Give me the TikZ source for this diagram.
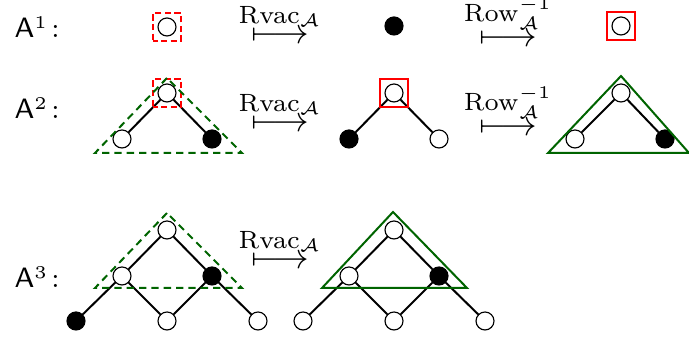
\documentclass[tikz,border=0pt]{standalone}
\usepackage{amsmath}
\definecolor{dkgreen}{RGB}{0,100,0}
\begin{document}
\begin{tikzpicture}[x=0.3pt,y=-0.3pt,
  wn/.style={circle,draw=black,line width=0.35pt,fill=white,minimum size=5.4pt,inner sep=0pt},
  bn/.style={wn,fill=black},
  edge/.style={line width=0.6pt},
  tri/.style={draw=dkgreen,line width=0.6pt},
  dtri/.style={tri,dash pattern=on 2.2pt off 1.5pt},
  rsq/.style={draw=red,line width=0.5pt,minimum size=8.4pt,inner sep=0pt},
  drsq/.style={rsq,dash pattern=on 1.9pt off 1pt,dash phase=0.5pt},
  lab/.style={anchor=base west,inner sep=0pt,font=\fontsize{8.4}{10}\selectfont},
  arr/.style={anchor=base,inner sep=0pt,scale=1.07}]
\useasboundingbox (0,0) rectangle (689,337);

% row labels
\node[lab] (l1) at (14,38) {\textsf{A}\raisebox{2.8pt}{\fontsize{5.4}{6}\selectfont 1}\,:};
\node[lab] (l2) at (14,119) {\textsf{A}\raisebox{2.8pt}{\fontsize{5.4}{6}\selectfont 2}\,:};
\node[lab] (l3) at (14,288) {\textsf{A}\raisebox{2.8pt}{\fontsize{5.4}{6}\selectfont 3}\,:};

% arrows
\node[arr] (a11) at (280,44) {$\overset{\mathrm{Rvac}_{\mathcal{A}}}{\longmapsto}$};
\node[arr] (a12) at (508,47) {$\overset{\mathrm{Row}_{\mathcal{A}}^{-1}}{\longmapsto}$};
\node[arr] (a21) at (280,132) {$\overset{\mathrm{Rvac}_{\mathcal{A}}}{\longmapsto}$};
\node[arr] (a22) at (508,136) {$\overset{\mathrm{Row}_{\mathcal{A}}^{-1}}{\longmapsto}$};
\node[arr] (a31) at (280,269) {$\overset{\mathrm{Rvac}_{\mathcal{A}}}{\longmapsto}$};

% row 1
\node[wn] (p1) at (167,27) {};
\node[bn] (p2) at (394,26) {};
\node[wn] (p3) at (621,26) {};
\node[drsq] (s1) at (p1) {};
\node[rsq] (s3) at (p3) {};

% row 2, tree 1
\node[wn] (q1t) at (167,93) {};
\node[wn] (q1l) at (122,139) {};
\node[bn] (q1r) at (212,139) {};
\draw[edge] (q1t) -- (q1l);
\draw[edge] (q1t) -- (q1r);
\node[drsq] (sq1) at (q1t) {};
\draw[dtri] (167,78) -- (95,153) -- (242,153) -- cycle;

% row 2, tree 2
\node[wn] (q2t) at (394,93) {};
\node[bn] (q2l) at (349,139) {};
\node[wn] (q2r) at (439,139) {};
\draw[edge] (q2t) -- (q2l);
\draw[edge] (q2t) -- (q2r);
\node[rsq] (sq2) at (q2t) {};

% row 2, tree 3
\node[wn] (q3t) at (621,93) {};
\node[wn] (q3l) at (575,139) {};
\node[bn] (q3r) at (665,139) {};
\draw[edge] (q3t) -- (q3l);
\draw[edge] (q3t) -- (q3r);
\draw[tri] (621,76) -- (548,153) -- (689,153) -- cycle;

% row 3, tree 1
\node[wn] (r1t) at (167,230) {};
\node[wn] (r1ml) at (122,276) {};
\node[bn] (r1mr) at (212,276) {};
\node[bn] (r1bl) at (76,321) {};
\node[wn] (r1bm) at (167,321) {};
\node[wn] (r1br) at (258,321) {};
\draw[edge] (r1t) -- (r1ml);
\draw[edge] (r1t) -- (r1mr);
\draw[edge] (r1ml) -- (r1bl);
\draw[edge] (r1ml) -- (r1bm);
\draw[edge] (r1mr) -- (r1bm);
\draw[edge] (r1mr) -- (r1br);
\draw[dtri] (167,213) -- (95,288) -- (242,288) -- cycle;

% row 3, tree 2
\node[wn] (r2t) at (394,230) {};
\node[wn] (r2ml) at (349,276) {};
\node[bn] (r2mr) at (439,276) {};
\node[wn] (r2bl) at (303,321) {};
\node[wn] (r2bm) at (394,321) {};
\node[wn] (r2br) at (485,321) {};
\draw[edge] (r2t) -- (r2ml);
\draw[edge] (r2t) -- (r2mr);
\draw[edge] (r2ml) -- (r2bl);
\draw[edge] (r2ml) -- (r2bm);
\draw[edge] (r2mr) -- (r2bm);
\draw[edge] (r2mr) -- (r2br);
\draw[tri] (393,212) -- (322,288) -- (467,288) -- cycle;
\end{tikzpicture}
\end{document}
